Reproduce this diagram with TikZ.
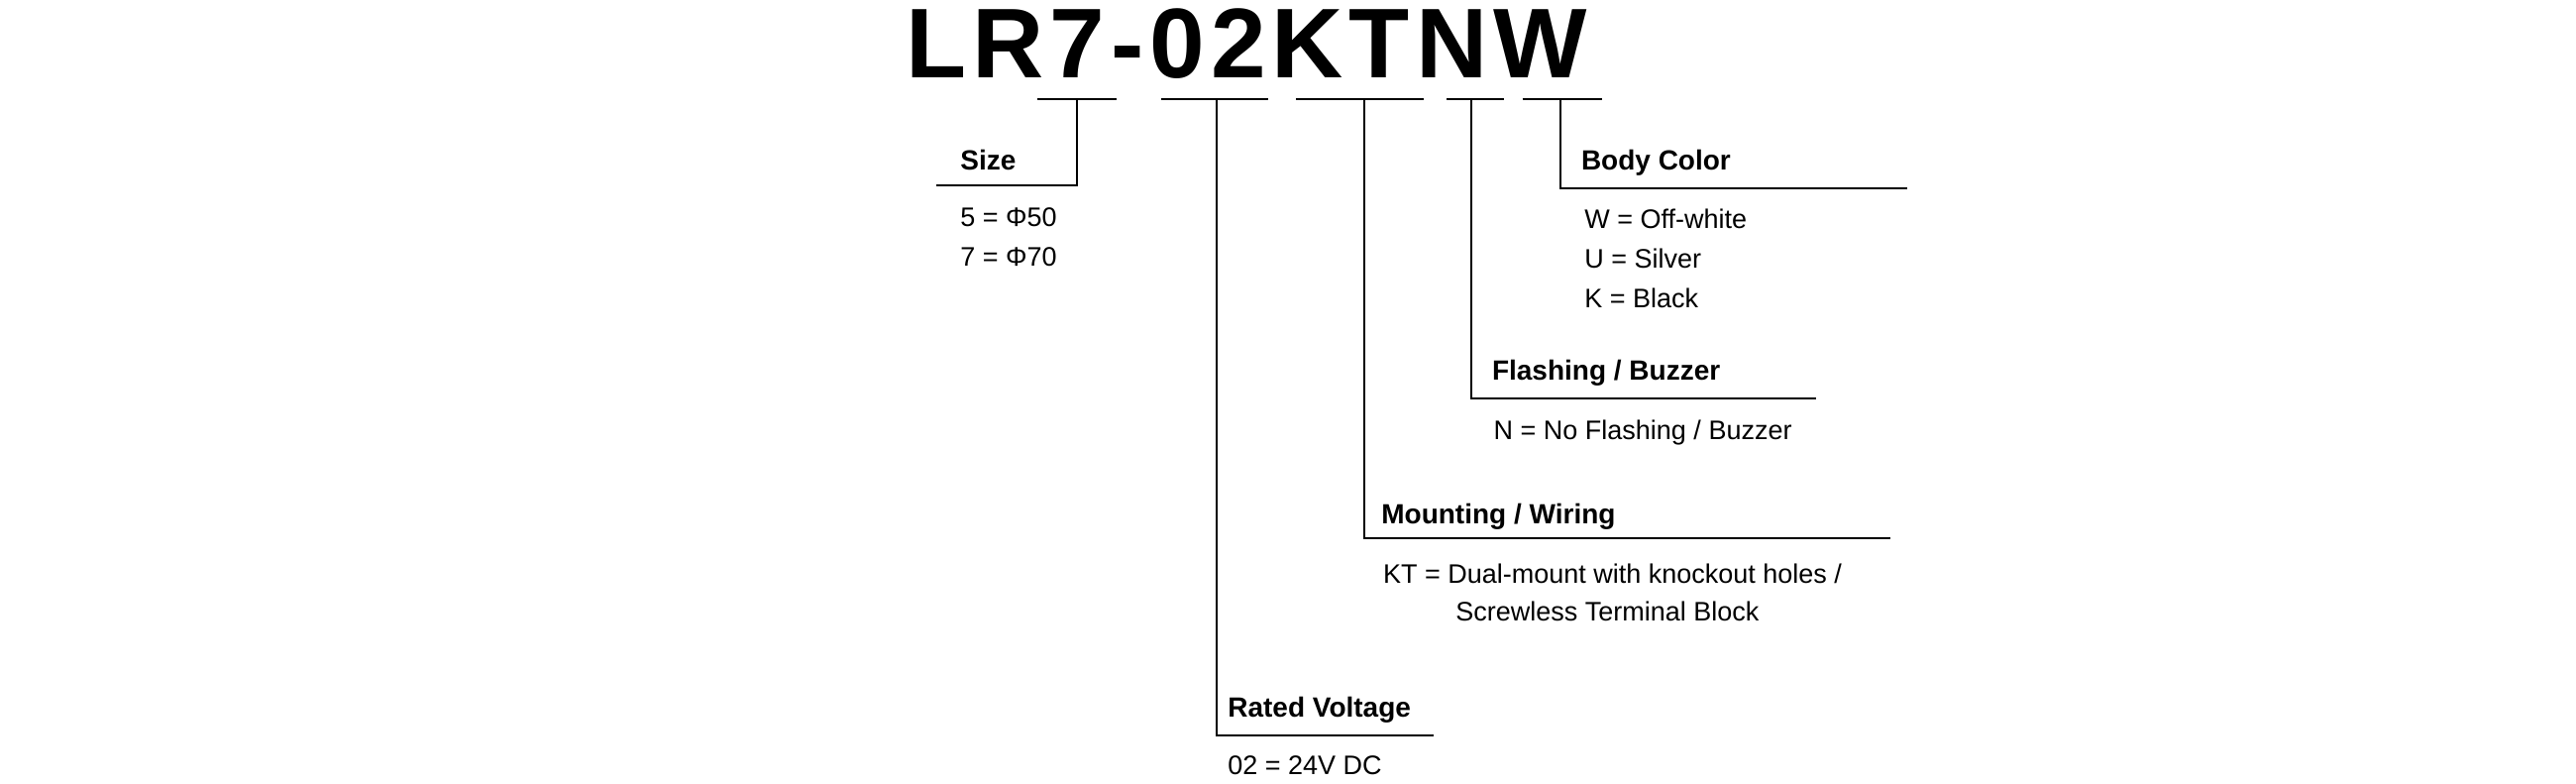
\documentclass[tikz,border=0pt]{standalone}
\usepackage{fontspec}
\setmainfont{Liberation Sans}
\newfontfamily\titlefont[LetterSpace=6]{Liberation Sans}
\begin{document}
\begin{tikzpicture}[x=0.8333pt,y=-0.8333pt,line width=1pt,
  hd/.style={anchor=base west,inner sep=0pt,font=\fontsize{14}{16}\selectfont\bfseries},
  tx/.style={anchor=base west,inner sep=0pt,font=\fontsize{13.5}{16}\selectfont}]
\useasboundingbox (0,0) rectangle (1560,474);
\node[anchor=base west,inner sep=0pt,font=\fontsize{50}{50}\selectfont\bfseries\titlefont] (title) at (548,47) {LR7-02KTNW};
% underline segments
\coordinate (u1) at (652,60); \coordinate (u2) at (737,60); \coordinate (u3) at (826,60);
\coordinate (u4) at (891,60); \coordinate (u5) at (945,60);
\draw (628,60) -- (676,60); \draw (703,60) -- (768,60); \draw (785,60) -- (862,60);
\draw (876,60) -- (911,60); \draw (922,60) -- (970,60);
% Size
\node[hd] (size) at (581,103) {Size};
\draw (u1) -- (652,112) -- (567,112);
\node[tx] (s1) at (581,137) {5 = Φ50};
\node[tx] (s2) at (581,161) {7 = Φ70};
% Body color
\node[hd] (body) at (957,103) {Body Color};
\draw (u5) -- (945,114) -- (1155,114);
\node[tx] (b1) at (959,138) {W = Off-white};
\node[tx] (b2) at (959,162) {U = Silver};
\node[tx] (b3) at (959,186) {K = Black};
% Flashing
\node[hd] (fl) at (903,230) {Flashing / Buzzer};
\draw (u4) -- (891,241) -- (1100,241);
\node[tx] (f1) at (904,266) {N = No Flashing / Buzzer};
% Mounting
\node[hd] (mo) at (836,317) {Mounting / Wiring};
\draw (u3) -- (826,326) -- (1145,326);
\node[tx] (m1) at (837,353) {KT = Dual-mount with knockout holes /};
\node[tx] (m2) at (881,376) {Screwless Terminal Block};
% Rated
\node[hd] (ra) at (743,434) {Rated Voltage};
\draw (u2) -- (737,445) -- (868,445);
\node[tx] (r1) at (743,469) {02 = 24V DC};
\end{tikzpicture}
\end{document}
